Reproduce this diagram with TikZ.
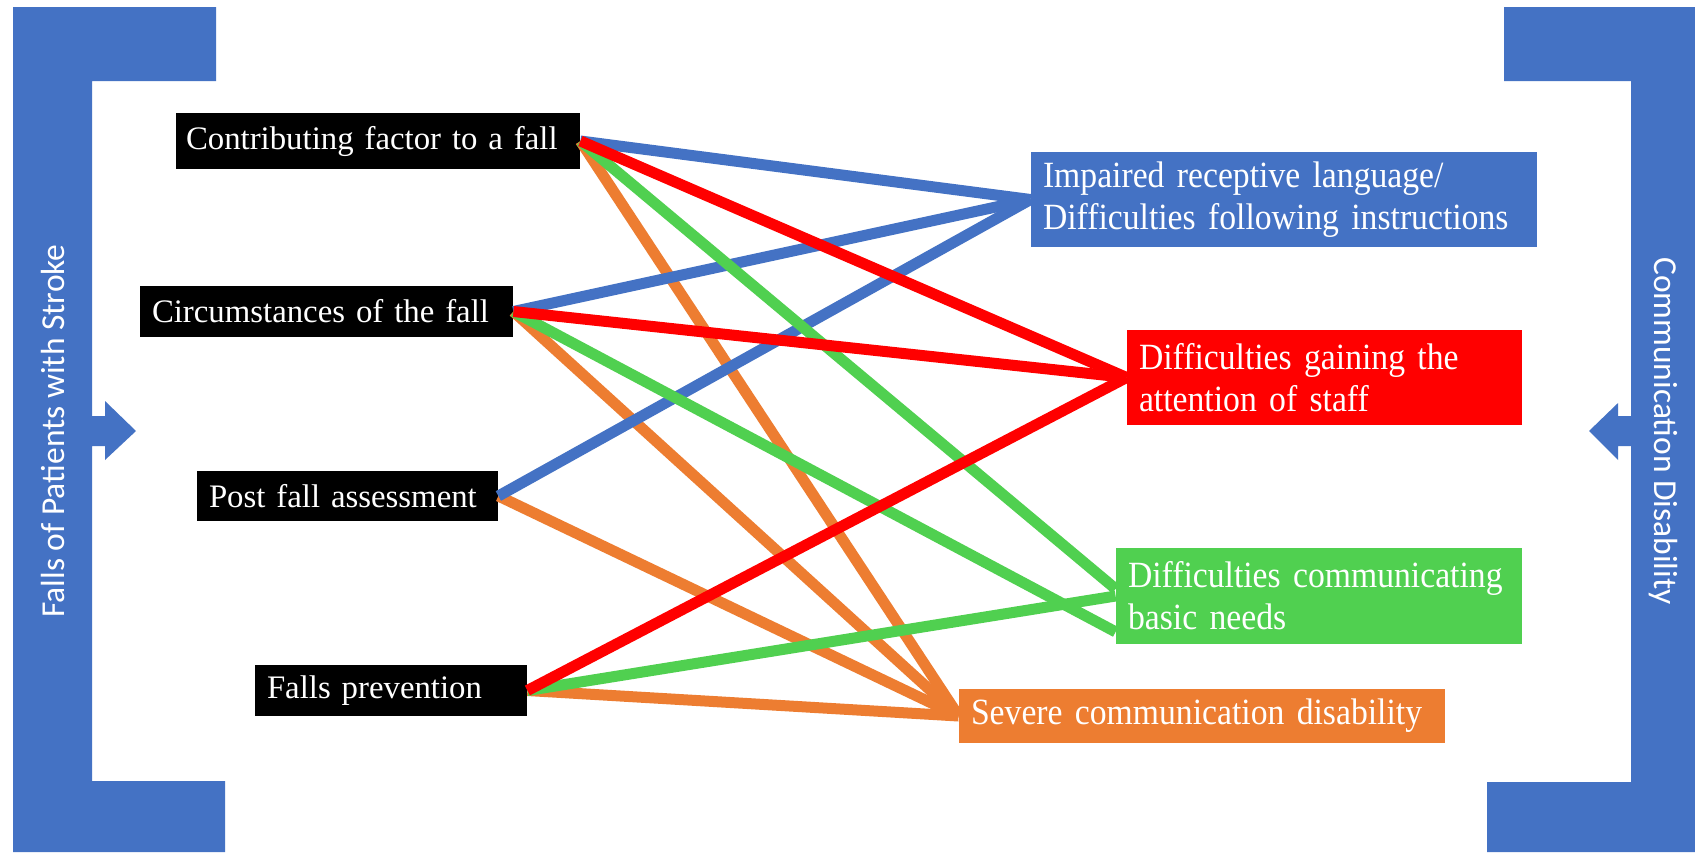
\documentclass[tikz,border=0pt]{standalone}
\usepackage{fontspec}
\setmainfont{Liberation Serif}
\newfontfamily\sidefont{Carlito}
\newfontfamily\condfont[FakeStretch=0.91]{Liberation Serif}
\definecolor{barblue}{HTML}{4472C4}
\definecolor{linkred}{HTML}{FF0000}
\definecolor{linkgreen}{HTML}{50D050}
\definecolor{linkorange}{HTML}{ED7D31}
\tikzset{
	cause/.style={fill=black, text=white, font=\fontsize{16.4}{20}\selectfont, inner xsep=6pt, inner ysep=0pt, align=left},
	effect/.style={text=white, font=\condfont\fontsize{18.5}{21}\selectfont, inner xsep=6pt, inner ysep=0pt, align=left},
	sidelabel/.style={text=white, font=\sidefont\fontsize{16.75}{20}\selectfont},
	link/.style={line width=5.5pt}
}
\begin{document}
\begin{tikzpicture}[x=0.5pt, y=-0.5pt]
	\useasboundingbox (0,0) rectangle (1695,852);
	\fill[white] (0,0) rectangle (1695,852);
	\fill[barblue] (13,7) -- (216,7) -- (216,81) -- (92,81) -- (92,416) -- (105,416) -- (105,401) -- (136,431) -- (105,460) -- (105,446) -- (92,446) -- (92,781) -- (225,781) -- (225,852) -- (13,852) -- cycle;
	\fill[barblue] (1504,7) -- (1695,7) -- (1695,852) -- (1487,852) -- (1487,782) -- (1631,782) -- (1631,446) -- (1618,446) -- (1618,460) -- (1589,431) -- (1618,403) -- (1618,416) -- (1631,416) -- (1631,81) -- (1504,81) -- cycle;
	\node[sidelabel, rotate=90] (fallslabel) at (52.5,431) {Falls of Patients with Stroke};
	\node[sidelabel, rotate=-90] (commlabel) at (1663,431) {Communication Disability};
	\node[cause, inner xsep=5pt, text width=192pt, minimum height=28pt] (contrib) at (378,141) {Contributing factor to a fall};
	\node[cause, text width=174.5pt, minimum height=25.5pt] (circum) at (326.5,311.5) {Circumstances of the fall};
	\node[cause, text width=138.5pt, minimum height=25pt] (postfall) at (347.5,496) {Post fall assessment};
	\node[cause, text width=124pt, minimum height=25.5pt] (prevent) at (391,690.5) {Falls prevention};
	\node[effect, fill=barblue, text width=241pt, minimum height=47.5pt] (receptive) at (1284,199.5) {Impaired receptive language/\\Difficulties following instructions};
	\node[effect, fill=linkred, text width=185.5pt, minimum height=47.5pt] (attention) at (1324.5,377.5) {Difficulties gaining the\\attention of staff};
	\node[effect, fill=linkgreen, text width=191pt, minimum height=48pt] (needs) at (1319,596) {Difficulties communicating\\basic needs};
	\node[effect, fill=linkorange, text width=231pt, minimum height=27pt] (severe) at (1202,716) {Severe communication disability};
	\draw[link, linkorange] (contrib.east) -- (severe.west);
	\draw[link, linkorange] (circum.east) -- (severe.west);
	\draw[link, linkorange] (postfall.east) -- (severe.west);
	\draw[link, linkorange] (prevent.east) -- (severe.west);
	\draw[link, barblue] (contrib.east) -- (receptive.west);
	\draw[link, barblue] (circum.east) -- (receptive.west);
	\draw[link, barblue] (postfall.east) -- (receptive.west);
	\draw[link, linkgreen] (contrib.east) -- (needs.178);
	\draw[link, linkgreen] (circum.east) -- (needs.190);
	\draw[link, linkgreen] (prevent.east) -- (needs.west);
	\draw[link, linkred] (contrib.east) -- (attention.west);
	\draw[link, linkred] (circum.east) -- (attention.west);
	\draw[link, linkred] (prevent.east) -- (attention.west);
\end{tikzpicture}
\end{document}
